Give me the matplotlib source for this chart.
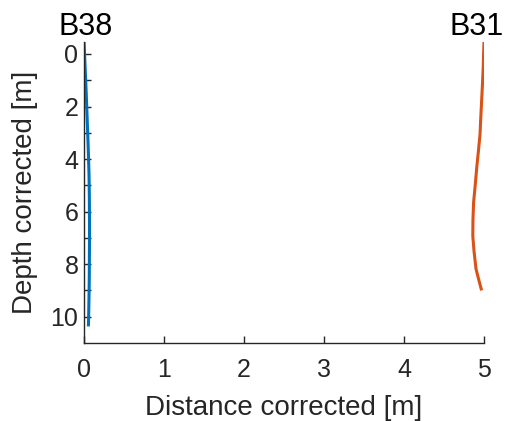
import matplotlib
matplotlib.use("Agg")
import matplotlib.pyplot as plt

plt.rcParams['font.family'] = ['Liberation Sans', 'DejaVu Sans']

# Borehole B38
b38_depth = [-0.47, 0.0, 0.5, 1.0, 1.5, 2.0, 2.5, 3.0, 3.5, 4.0, 4.5, 5.0, 5.5,
             6.0, 6.5, 7.0, 7.5, 8.0, 8.5, 9.0, 9.5, 10.0, 10.37]
b38_dist = [0.0, 0.007, 0.014, 0.021, 0.028, 0.034, 0.040, 0.046, 0.052, 0.057,
            0.062, 0.065, 0.067, 0.068, 0.069, 0.069, 0.068, 0.067, 0.066, 0.064,
            0.061, 0.058, 0.055]

# Borehole B31
b31_depth = [-0.47, 0.0, 0.53, 1.2, 1.8, 2.4, 3.07, 3.7, 4.3, 5.0, 5.65, 6.3,
             6.92, 7.5, 8.18, 8.6, 9.0]
b31_dist = [5.0, 4.995, 4.99, 4.98, 4.97, 4.96, 4.95, 4.93, 4.91, 4.89, 4.87,
            4.862, 4.86, 4.875, 4.90, 4.935, 4.97]

labels = ['B38', 'B31']
label_x = [0.02, 4.91]

xticks = [0, 1, 2, 3, 4, 5]
yticks = list(range(0, 11))
ytick_labels = [str(v) if v % 2 == 0 else '' for v in yticks]

axcol = '#262626'
fig = plt.figure(figsize=(5.07, 4.21), dpi=100)
ax = fig.add_axes([84/507, 1-343/421, 400/507, (343-41.6)/421])

ax.plot(b38_dist, b38_depth, color='#0072BD', lw=2.2, solid_capstyle='butt')
ax.plot(b31_dist, b31_depth, color='#D95319', lw=2.2, solid_capstyle='butt')

ax.set_xlim(0, 5)
ax.set_ylim(11, -0.47)

tops = [min(b38_depth), min(b31_depth)]
for lab, xx, t in zip(labels, label_x, tops):
    ax.text(xx, t - 0.27, lab, ha='center', va='baseline', fontsize=22,
            color='black', clip_on=False)

ax.set_xticks(xticks)
ax.set_yticks(yticks)
ax.set_yticklabels(ytick_labels)
ax.tick_params(direction='in', length=5, width=1, colors=axcol,
               labelsize=18, pad=11)
ax.tick_params(axis='y', pad=4)
for s in ['top', 'right']:
    ax.spines[s].set_visible(False)
for s in ['left', 'bottom']:
    ax.spines[s].set_color(axcol)
    ax.spines[s].set_linewidth(1)

ax.set_xlabel('Distance corrected [m]', fontsize=20, color=axcol, labelpad=9)
ax.set_ylabel('Depth corrected [m]', fontsize=20, color=axcol, labelpad=9)

fig.savefig('out.png', dpi=100)
